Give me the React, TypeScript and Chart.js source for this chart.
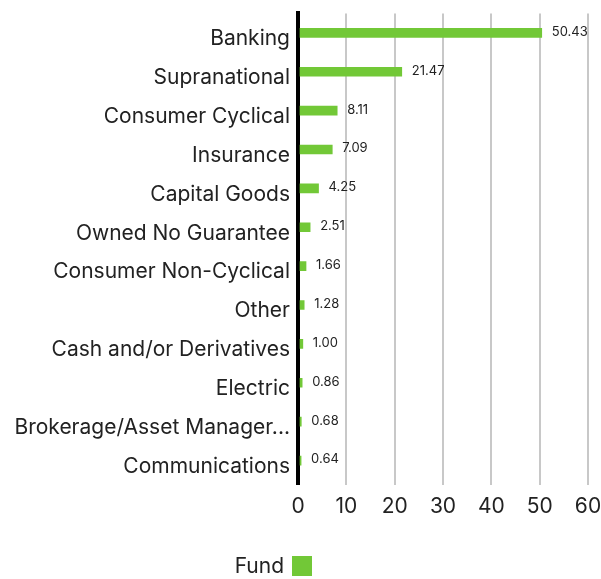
import React, { useEffect, useRef } from "react";
import { Chart, registerables } from "chart.js";

Chart.register(...registerables);

const categories = [
  "Banking",
  "Supranational",
  "Consumer Cyclical",
  "Insurance",
  "Capital Goods",
  "Owned No Guarantee",
  "Consumer Non-Cyclical",
  "Other",
  "Cash and/or Derivatives",
  "Electric",
  "Brokerage/Asset Manager...",
  "Communications",
];

const fundValues = [50.43, 21.47, 8.11, 7.09, 4.25, 2.51, 1.66, 1.28, 1.0, 0.86, 0.68, 0.64];

const xTicks = [0, 10, 20, 30, 40, 50, 60];

const seriesLabel = "Fund";
const GREEN = "#72c837";
const TEXT = "#222222";
const FONT = "Inter, sans-serif";

const valueLabels = {
  id: "valueLabels",
  afterDatasetsDraw(chart: any) {
    const ctx = chart.ctx;
    const meta = chart.getDatasetMeta(0);
    ctx.save();
    ctx.font = `13px ${FONT}`;
    ctx.fillStyle = TEXT;
    ctx.textAlign = "left";
    ctx.textBaseline = "middle";
    meta.data.forEach((bar: any, i: number) => {
      const v = chart.data.datasets[0].data[i] as number;
      ctx.fillText(v.toFixed(2), bar.x + 10, bar.y - 1);
    });
    ctx.restore();
  },
};

const customLegend = {
  id: "customLegend",
  afterDraw(chart: any) {
    const ctx = chart.ctx;
    const ds = chart.data.datasets[0];
    ctx.save();
    ctx.font = `21px ${FONT}`;
    ctx.fillStyle = TEXT;
    ctx.textAlign = "right";
    ctx.textBaseline = "middle";
    ctx.fillText(ds.label, 284, 567);
    ctx.fillStyle = ds.backgroundColor;
    ctx.fillRect(292, 556, 20, 20);
    ctx.restore();
  },
};

export default function App() {
  const ref = useRef<HTMLCanvasElement>(null);
  useEffect(() => {
    document.body.style.margin = "0";
    const chart = new Chart(ref.current as HTMLCanvasElement, {
      type: "bar",
      data: {
        labels: categories,
        datasets: [
          {
            label: seriesLabel,
            data: fundValues,
            backgroundColor: GREEN,
            borderWidth: 0,
            barThickness: 9,
          },
        ],
      },
      options: {
        indexAxis: "y",
        animation: false,
        responsive: false,
        layout: { padding: { top: 13.4, right: 13, bottom: 0, left: 0 } },
        plugins: {
          legend: { display: false },
          tooltip: { enabled: false },
        },
        scales: {
          x: {
            min: 0,
            max: 60,
            afterBuildTicks: (s: any) => {
              s.ticks = xTicks.map((v) => ({ value: v }));
            },
            afterFit: (s: any) => {
              s.height = 99;
              s.paddingLeft = 0;
              s.paddingRight = 0;
            },
            grid: {
              color: (c: any) => (c.tick && c.tick.value === 0 ? "#000000" : "#c8c8c8"),
              lineWidth: (c: any) => (c.tick && c.tick.value === 0 ? 4 : 2),
              drawTicks: true,
              tickLength: 5,
            },
            border: { display: false },
            ticks: {
              color: TEXT,
              font: { family: FONT, size: 21 },
              padding: 9,
            },
          },
          y: {
            z: 1,
            afterFit: (s: any) => {
              s.width = 298;
              s.paddingTop = 0;
              s.paddingBottom = 0;
            },
            grid: { display: false, drawTicks: false },
            border: { display: true, color: "#000000", width: 4 },
            ticks: {
              color: TEXT,
              font: { family: FONT, size: 21 },
              padding: 8,
              labelOffset: 6,
              autoSkip: false,
            },
          },
        },
      },
      plugins: [valueLabels, customLegend],
    });
    return () => chart.destroy();
  }, []);
  return (
    <div style={{ width: 601, height: 579 }}>
      <canvas ref={ref} width={601} height={579} style={{ display: "block" }} />
    </div>
  );
}
